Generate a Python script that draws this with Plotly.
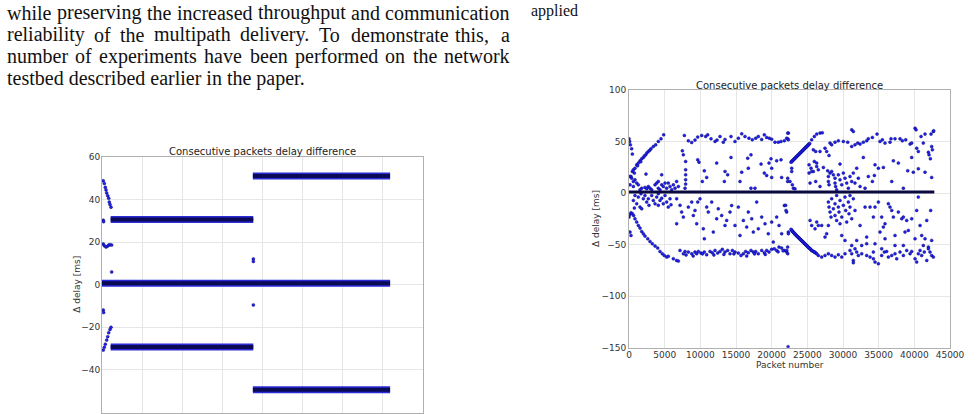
import plotly.graph_objects as go

W, H = 977, 414

# ---------------- Left chart data ----------------
# dense bands: start packet, end packet, delay level
l_band_x0 = [1080, 18800, 0, 1080, 18800]
l_band_x1 = [18850, 35900, 35900, 18850, 35900]
l_band_y = [30.6, 51.0, 0.7, -29.3, -49.3]

# sparse points (packet, delay)
l_points = [
    (162, 48.8), (287, 47.5), (411, 45.7), (498, 44.5), (586, 43.1), (710, 41.8),
    (835, 40.6), (910, 38.8), (997, 37.7), (1121, 36.4),
    (162, 30.3), (200, 29.6),
    (162, 19.1), (287, 18.3), (498, 17.7), (660, 18.0), (835, 18.6), (997, 18.8), (1200, 18.6),
    (1205, 6.0), (18860, 12.1), (18860, 10.9),
    (162, -11.9), (200, -13.1),
    (162, -30.7), (287, -29.4), (411, -27.9), (586, -26.0), (710, -24.4), (835, -22.5),
    (997, -21.0), (1121, -20.0),
    (18860, -9.5),
]

# ---------------- Right chart data ----------------
r_zero_x = [0, 42800]
r_zero_y = [1.0, 1.0]

r_arc_up = [
    (22710, 30.0), (22900, 31.3), (23090, 32.6), (23270, 33.9), (23460, 35.2), (23650, 36.5),
    (23830, 37.8), (24020, 39.1), (24210, 40.4), (24400, 41.7), (24580, 43.0), (24770, 44.3),
    (24960, 45.5), (25140, 46.8), (25330, 48.1),
]
r_arc_down = [
    (22710, -35.2), (22900, -37.2), (23090, -38.5), (23270, -39.8), (23460, -41.1), (23650, -42.4),
    (23830, -43.6), (24020, -44.9), (24210, -46.2), (24400, -47.5), (24580, -48.8), (24770, -50.1),
    (24960, -51.4), (25140, -52.7), (25380, -54.0), (25610, -55.6), (25980, -57.2), (26310, -58.8),
]

r_upper = [
    (0, 52.7), (90, 50.1), (190, 46.8), (370, 43.0), (470, 37.8), (280, 16.1), (470, 21.0),
    (610, 22.6), (750, 19.4), (840, 24.2), (1080, 27.4), (1200, 26.5), (1310, 29.1), (1540, 31.3),
    (1650, 30.5), (1780, 33.3), (2010, 34.5), (2150, 36.0), (2340, 37.1), (2500, 39.0),
    (2710, 40.4), (2900, 41.5), (3080, 43.0), (3410, 45.2), (3740, 46.8), (4110, 50.1),
    (4490, 52.7), (4860, 56.5),
    (7760, 55.9), (8320, 50.7), (8790, 49.1), (9250, 51.4), (9630, 54.3), (10190, 55.9),
    (10750, 54.9), (11030, 56.5), (11500, 52.7), (12060, 50.1), (12340, 51.4), (12760, 54.9),
    (13220, 49.4), (13460, 52.0), (14300, 54.9), (14860, 50.1), (15330, 53.3), (15800, 57.5),
    (16260, 54.9), (16820, 53.3), (17290, 51.7), (17760, 53.3), (18130, 54.9), (18600, 52.0),
    (18970, 56.5), (19300, 54.0), (19670, 53.3), (20000, 52.3), (20470, 49.4), (20940, 49.4),
    (21310, 50.1), (21780, 50.7), (22340, 58.2), (22240, 52.6),
    (22250, 58.2), (22110, 53.3), (22340, 51.7),
    (25610, 51.7), (25980, 54.9), (26310, 57.2), (26780, 58.2), (27100, 58.5),
    (28180, 48.5), (28410, 46.8), (28880, 49.4), (29350, 50.7), (30050, 50.1), (30660, 49.4),
    (31220, 61.4), (31450, 59.8), (31220, 45.2), (31680, 46.8), (32060, 48.5), (32390, 47.5),
    (32850, 49.4), (33320, 50.7), (33550, 52.7), (34120, 54.0), (34770, 57.2), (35190, 50.1),
    (35520, 51.7), (35890, 48.5), (36590, 49.4), (36730, 52.7), (37290, 52.7), (37990, 52.7),
    (38320, 50.7), (38790, 51.7), (39400, 47.5), (39630, 48.5), (40100, 63.0), (40240, 61.4),
    (40330, 43.6), (40560, 40.4), (40940, 54.9), (41260, 48.5), (41500, 57.2), (41970, 39.7),
    (42060, 37.1), (42250, 33.3), (42340, 57.2), (42670, 59.8), (42430, 45.2), (42530, 42.0),
    (42710, 60.4),
]

r_mid_pos = [
    (7480, 41.0), (7620, 37.1), (7940, 30.7), (7940, 22.6), (7940, 17.7), (7940, 12.9),
    (7940, 8.7), (7850, 4.8), (9630, 32.3), (9810, 30.0), (10560, 21.6), (10280, 11.3),
    (10890, 15.2), (12290, 29.1), (13460, 21.0), (13370, 11.3), (13830, 17.7), (14300, 34.6),
    (15560, 11.3), (15800, 20.3), (16640, 33.9), (16730, 24.2), (17100, 37.1), (17100, 4.8),
    (17660, 4.8), (18510, 28.1), (18970, 19.4), (19300, 17.1), (19630, 29.1), (19910, 33.3),
    (20000, 24.2), (20000, 15.2), (20700, 31.3), (21310, 32.3), (21400, 15.2), (22240, 11.3),
    (140, 16.1), (370, 14.5), (610, 11.3), (840, 12.9), (1080, 9.7), (140, 8.0), (610, 6.4),
    (1310, 8.0), (1780, 4.8), (1540, 3.2), (2240, 5.5), (2480, 4.2), (2710, 6.4), (2940, 4.8),
    (3180, 3.2), (3650, 8.0), (3880, 9.7), (4110, 11.3), (4110, 4.8), (4350, 3.2), (4580, 17.7),
    (4580, 8.0), (4810, 6.4), (5050, 9.7), (5280, 4.8), (5510, 9.7), (5750, 6.4), (5980, 3.2),
    (6220, 8.0), (6450, 4.8), (6680, 11.3), (6920, 6.4), (2380, 18.4),
    (22810, 24.2), (22810, 21.0), (22250, 14.5), (22570, 11.3), (22900, 8.0), (23040, 4.8),
    (23270, 4.2), (25840, 42.0), (26170, 40.4), (26780, 40.4), (27480, 43.6), (27710, 40.4),
    (28040, 36.5), (25240, 27.4), (25980, 30.7), (26310, 29.1), (25520, 24.2), (25840, 21.0),
    (26310, 25.8), (26540, 22.6), (25240, 19.4), (25610, 21.0), (25380, 9.7), (26170, 11.3),
    (26780, 6.4), (27250, 24.9), (27850, 21.6), (28180, 19.4), (29580, 28.1), (27950, 16.1),
    (27950, 11.3), (28040, 8.0), (28410, 21.0), (28650, 17.7), (28880, 14.5), (28880, 9.7),
    (28970, 6.4), (29110, 3.2), (29350, 17.7), (29580, 12.9), (29820, 8.0), (30050, 19.4),
    (30280, 14.5), (30520, 9.7), (30750, 4.8), (30980, 16.1), (31220, 11.3), (31450, 19.4),
    (31680, 9.7), (31920, 24.2), (32150, 14.5), (32390, 6.4), (32850, 34.6), (33090, 4.8),
    (33550, 16.1), (34120, 11.3), (34400, 17.1), (34490, 27.4), (34960, 24.2), (35660, 24.9),
    (36830, 11.3), (37060, 31.3), (37760, 29.1), (38460, 4.8), (39070, 21.6), (39860, 20.3),
    (40560, 23.6), (41500, 20.3), (42430, 15.2), (39630, 34.6),
]

r_mid_neg = [
    (840, -2.3), (1310, -3.9), (1680, -0.6), (2010, -5.5), (2240, -2.3), (2480, -8.7),
    (2710, -5.5), (2800, -11.9), (3180, -2.3), (3410, -7.1), (3650, -10.3), (3880, -3.9),
    (4110, -0.6), (4110, -11.9), (4350, -7.1), (4580, -4.9), (4810, -10.3), (5050, -2.3),
    (5280, -8.7), (5510, -13.6), (5750, -5.5), (5890, -11.3), (1080, -10.3), (1540, -13.6),
    (610, -7.1), (1780, -15.2), (750, -14.5),
    (6680, -5.5), (7150, -11.9), (7380, -18.4), (7620, -23.3), (6680, -29.7), (8320, -13.6),
    (8790, -8.7), (9020, -21.7), (9250, -16.8), (9490, -29.7), (9630, -8.7), (9950, -5.5),
    (10420, -34.6), (10560, -44.3), (10890, -13.6), (11120, -18.4), (11590, -8.7),
    (11820, -37.8), (12290, -24.9), (12520, -15.2), (12990, -21.7), (13460, -31.4),
    (13690, -26.5), (14160, -18.4), (14390, -12.0), (14860, -31.4), (15330, -13.6),
    (15560, -41.1), (16030, -26.5), (16500, -33.0), (16730, -18.4), (17200, -24.9),
    (17430, -37.8), (17900, -8.7), (18130, -34.6), (18600, -23.3), (19070, -29.7),
    (19530, -39.4), (20000, -28.1), (20230, -47.5), (20700, -23.3), (21030, -31.4),
    (21400, -39.4), (21780, -12.0), (22100, -18.4), (22340, -37.8),
    (21960, -11.9), (22010, -16.8), (22340, -39.4),
    (27950, -8.7), (28040, -13.6), (28180, -18.4), (28320, -23.3), (28410, -5.5), (28650, -15.2),
    (28880, -10.3), (28880, -21.7), (29110, -2.3), (29110, -26.5), (29350, -13.6), (29440, -18.4),
    (29580, -7.1), (29580, -29.7), (29820, -23.3), (30050, -11.9), (30280, -3.9), (30380, -16.8),
    (30520, -28.1), (30750, -8.7), (30840, -20.0), (30980, -2.3), (30980, -13.6), (31220, -24.9),
    (31450, -5.5), (31680, -16.8), (25380, -26.5), (25610, -31.4), (26080, -34.6), (26310, -28.1),
    (26540, -31.4), (27010, -31.4), (27480, -42.7), (27710, -39.4), (27950, -31.4), (29820, -41.1),
    (30280, -45.9), (31220, -50.8), (31680, -54.0), (31920, -45.9), (32390, -31.4), (33090, -13.6),
    (33790, -13.6), (34260, -23.3), (34490, -13.6), (34960, -8.7), (35420, -23.3), (35660, -33.0),
    (35890, -29.7), (36360, -10.3), (36590, -13.6), (36830, -16.8), (37060, -23.3), (37290, -41.1),
    (37760, -18.4), (38230, -24.9), (38460, -23.3), (38690, -37.8), (38930, -26.5), (39160, -36.2),
    (39630, -24.9), (40100, -44.3), (40330, -16.8), (40560, -3.9), (40800, -31.4), (41030, -41.1),
    (41260, -50.8), (41500, -44.3), (41740, -26.5), (41970, -52.4), (42290, -16.8), (42430, -45.9),
    (35190, -37.8), (35890, -44.3), (33320, -42.7), (34490, -49.1), (32620, -50.8), (33320, -49.1),
    (34260, -57.2), (35420, -54.0), (37290, -50.8), (38460, -50.8),
]

r_lower = [
    (0, -23.3), (90, -21.0), (280, -19.1), (470, -20.0), (650, -21.7), (840, -24.9), (1080, -28.1),
    (1310, -31.4), (1540, -33.9), (1780, -37.2), (2010, -39.4), (2240, -41.7), (2620, -44.3),
    (2940, -46.9), (3270, -49.1), (3650, -51.4), (4020, -53.3), (4350, -56.6), (4670, -58.8),
    (4950, -60.5), (5280, -62.1), (5510, -61.4), (140, -37.8), (280, -41.1), (6220, -63.7),
    (6680, -65.3), (6920, -66.0),
    (7150, -55.6), (7620, -58.8), (7850, -56.6), (8320, -57.2), (8790, -58.8), (9250, -57.2),
    (9490, -58.8), (9720, -56.6), (10090, -58.2), (10560, -57.2), (10890, -59.8), (11360, -56.6),
    (11680, -57.9), (12060, -55.6), (12430, -58.2), (12760, -56.6), (13080, -54.6), (13460, -57.2),
    (13830, -55.6), (14160, -58.8), (14490, -55.6), (14860, -57.2), (15330, -58.2), (15700, -60.5),
    (16030, -58.8), (16360, -56.6), (16730, -57.9), (17100, -55.6), (17430, -57.2), (17760, -56.6),
    (18130, -58.8), (18600, -55.6), (18970, -57.9), (19300, -55.6), (19630, -57.2), (20000, -54.6),
    (20370, -54.0), (20700, -55.6), (21030, -52.4), (21400, -53.3), (21780, -55.6), (22100, -57.2),
    (22240, -52.4), (8000, -60.0), (9000, -61.0), (10300, -59.0), (11900, -60.0), (13300, -59.5),
    (14700, -59.0), (16500, -61.0), (17600, -59.0), (19100, -59.5), (20900, -57.0), (21600, -56.0),
    (26540, -60.5), (27010, -62.1), (27480, -60.5), (27950, -58.8), (28410, -60.5), (28880, -62.1),
    (29350, -59.8), (29820, -62.1), (30280, -58.8), (30980, -55.6), (31220, -58.8), (31450, -65.3),
    (31450, -67.6), (31920, -57.2), (32150, -60.5), (32620, -58.8), (33320, -60.5), (33790, -62.1),
    (34260, -63.7), (34490, -66.9), (34960, -68.5), (35420, -60.5), (35800, -57.2), (36120, -56.6),
    (36360, -62.1), (36830, -60.5), (37290, -58.8), (37530, -63.7), (37990, -57.2), (38460, -60.5),
    (38930, -55.6), (39400, -58.8), (39630, -56.6), (40100, -63.7), (40330, -66.9), (40560, -58.8),
    (40800, -55.6), (41030, -60.5), (41400, -57.2), (41740, -65.3), (41970, -54.0), (42200, -57.2),
    (42430, -60.5), (42670, -62.1), (22110, -55.6), (22250, -58.8), (22300, -149.0),
]

# ---------------- Page text ----------------
para_lines = [
    ["while", "preserving", "the", "increased", "throughput", "and", "communication"],
    ["reliability", "of", "the", "multipath", "delivery.", "To", "demonstrate", "this,", "a"],
    ["number", "of", "experiments", "have", "been", "performed", "on", "the", "network"],
    ["testbed described earlier in the paper."],
]
para_word_px = [
    [7, 57, 147, 177, 258, 351, 385],
    [7, 94, 120, 154, 240, 319, 351, 455, 501],
    [7, 75, 99, 204, 250, 295, 385, 413, 444],
    [7],
]
para_line_py = [12.5, 34.5, 56.5, 78.5]

TITLE = "Consecutive packets delay difference"
YLABEL = "\u0394 delay [ms]"
XLABEL = "Packet number"

BLUE = "#2020f0"
NAVY = "#000060"


def unzip(pairs):
    return [p[0] for p in pairs], [p[1] for p in pairs]


fig = go.Figure()

# left chart bands
for x0, x1, y in zip(l_band_x0, l_band_x1, l_band_y):
    fig.add_trace(go.Scatter(x=[x0, x1], y=[y, y], mode="lines", xaxis="x", yaxis="y",
                             line=dict(color="#2b2bd8", width=7), hoverinfo="skip"))
    fig.add_trace(go.Scatter(x=[x0, x1], y=[y, y], mode="lines", xaxis="x", yaxis="y",
                             line=dict(color="#0a0a55", width=4), hoverinfo="skip"))
lx, ly = unzip(l_points)
mk = dict(size=3, color=BLUE, line=dict(color=NAVY, width=0.4))
fig.add_trace(go.Scatter(x=lx, y=ly, mode="markers", xaxis="x", yaxis="y", marker=mk))

# right chart
for grp in [r_upper, r_mid_pos, r_mid_neg, r_lower]:
    gx, gy = unzip(grp)
    fig.add_trace(go.Scatter(x=gx, y=gy, mode="markers", xaxis="x2", yaxis="y2", marker=mk))
for arc in [r_arc_up, r_arc_down]:
    ax_, ay_ = unzip(arc)
    fig.add_trace(go.Scatter(x=ax_, y=ay_, mode="lines+markers", xaxis="x2", yaxis="y2",
                             line=dict(color="#1414b8", width=3.5), marker=mk))
fig.add_trace(go.Scatter(x=r_zero_x, y=r_zero_y, mode="lines", xaxis="x2", yaxis="y2",
                         line=dict(color="#0a0a40", width=3)))

tickfont = dict(family="DejaVu Sans", size=9, color="#333333")
axis_common = dict(showgrid=True, gridcolor="#e6e6e6", gridwidth=1, zeroline=False,
                   showline=True, mirror=True, linecolor="#b0b0b0", linewidth=1,
                   ticks="", tickfont=tickfont, automargin=False)

fig.update_layout(
    template="none",
    width=W, height=H, margin=dict(l=0, r=0, t=0, b=0, pad=0, autoexpand=False), showlegend=False,
    plot_bgcolor="white", paper_bgcolor="white",
    xaxis=dict(domain=[102 / W, 423 / W], range=[0, 40000], dtick=5000, anchor="y",
               showticklabels=False, **axis_common),
    yaxis=dict(domain=[1 - 412.5 / H, 1 - 156.9 / H], range=[-60, 60], dtick=20, anchor="x",
               ticklabelstandoff=-1, **axis_common),
    xaxis2=dict(domain=[629 / W, 950 / W], range=[0, 45000], dtick=5000, anchor="y2",
                tickformat="d", ticklabelstandoff=-2, **axis_common),
    yaxis2=dict(domain=[1 - 347.7 / H, 1 - 90 / H], range=[-150, 100], dtick=50, anchor="x2",
                ticklabelstandoff=0, **axis_common),
)

ann = []
tfont = dict(family="DejaVu Sans", size=10, color="#222")
lfont = dict(family="DejaVu Sans", size=9, color="#333")
ann.append(dict(x=(102 + 423) / 2 / W, y=1 - 151 / H, text=TITLE, showarrow=False,
                xref="paper", yref="paper", font=tfont, xanchor="center", yanchor="middle"))
ann.append(dict(x=(629 + 950) / 2 / W, y=1 - 85 / H, text=TITLE, showarrow=False,
                xref="paper", yref="paper", font=tfont, xanchor="center", yanchor="middle"))
ann.append(dict(x=77 / W, y=1 - 284.7 / H, text=YLABEL, textangle=-90, showarrow=False,
                xref="paper", yref="paper", font=lfont, xanchor="center", yanchor="middle"))
ann.append(dict(x=596 / W, y=1 - 219 / H, text=YLABEL, textangle=-90, showarrow=False,
                xref="paper", yref="paper", font=lfont, xanchor="center", yanchor="middle"))
ann.append(dict(x=789.5 / W, y=1 - 365 / H, text=XLABEL, showarrow=False,
                xref="paper", yref="paper", font=lfont, xanchor="center", yanchor="middle"))

serif = dict(family="Liberation Serif, Times New Roman, serif", size=20, color="#111111")
for words, xs, py in zip(para_lines, para_word_px, para_line_py):
    for w, px in zip(words, xs):
        ann.append(dict(x=px / W, y=1 - py / H, text=w, showarrow=False, xref="paper", yref="paper",
                        font=serif, xanchor="left", yanchor="middle", xshift=-2))
ann.append(dict(x=531 / W, y=1 - 11 / H, text="applied", showarrow=False, xref="paper", yref="paper",
                font=dict(family="Liberation Serif, Times New Roman, serif", size=16, color="#111111"),
                xanchor="left", yanchor="middle", xshift=-2))

fig.update_layout(annotations=ann)
fig.write_html("out.html")
